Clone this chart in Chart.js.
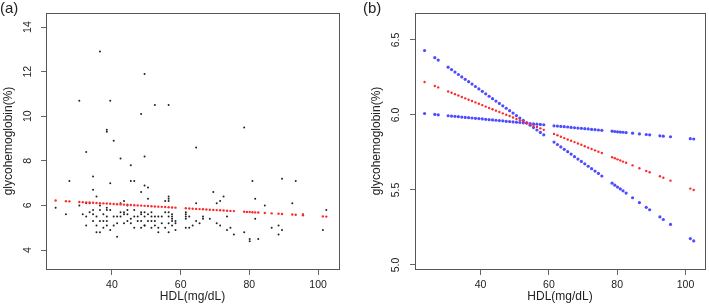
<!DOCTYPE html>
<html>
<head>
<meta charset="utf-8">
<script src="https://cdn.jsdelivr.net/npm/chart.js@4.4.1/dist/chart.umd.min.js"></script>
<style>
html, body { margin: 0; padding: 0; background: #fff; }
#wrap { position: relative; width: 709px; height: 307px; }
canvas { position: absolute; top: 0; }
</style>
</head>
<body>
<div id="wrap">
  <canvas id="chartA" width="355" height="307" style="left:0px"></canvas>
  <canvas id="chartB" width="354" height="307" style="left:355px"></canvas>
</div>
<script>
// observed HDL / glycohemoglobin pairs (panel a)
var hdlObs = [
  36.5, 49.5, 30.5, 39.5, 52.5, 56.5, 48.5, 78.5, 38.5, 38.5, 40.5, 64.5, 32.5, 49.5,
  42.5, 45.5, 27.6, 34.5, 39.5, 45.5, 46.5, 49.5, 34.5, 35.5, 43.5, 23.6, 26.6,
  50.5, 48.5, 50.5, 56.5, 56.5, 56.5, 55.5, 64.5, 69.5, 72.5, 70.5, 71.5,
  80.9, 89.5, 93.5, 81.7, 92.5, 84.5, 102.4, 95.6, 81.7, 86.5, 88.5, 89.5, 88.5,
  78.5, 75.5, 80.1, 80.1, 82.6, 101.4,
  32.5, 33.5, 36.5, 38.5, 42.5, 44.5, 34.5, 36.5, 38.5, 42.5, 43.5, 44.5, 46.5, 48.5,
  31.5, 32.5, 34.5, 35.5, 37.5, 38.5, 40.5, 41.5, 42.5, 43.5, 44.5, 46.5, 47.5, 48.5,
  34.5, 37.5, 38.5, 44.5, 45.5, 47.5, 48.5, 32.5, 35.5, 38.5, 43.5, 46.5, 48.5, 49.5,
  37.5, 39.5, 35.5, 36.5, 41.5,
  33.5, 36.5, 40.5, 39.5, 41.5, 45.5, 30.5,
  49.5, 51.5, 55.5, 56.5, 50.5, 57.5, 49.5, 51.5, 52.5, 53.5, 54.5, 56.5, 57.5,
  50.5, 51.5, 52.5, 57.5, 58.5, 54.5, 56.5, 58.5, 49.5, 52.5, 57.5, 51.5, 53.5, 55.5,
  53.5, 56.5, 57.5, 58.5,
  61.5, 61.5, 61.5, 61.5, 61.5, 62.5, 62.5, 63.5, 64.5, 65.5, 66.5, 66.5, 68.5,
  70.5, 71.5, 73.5, 73.5, 74.5
];
var hba1cObs = [
  12.9, 11.9, 10.7, 10.7, 10.5, 10.5, 10.1, 9.5, 9.4, 9.3, 8.9, 8.6, 8.4, 8.2,
  8.1, 7.8, 7.1, 7.3, 7.0, 7.1, 7.1, 6.9, 6.7, 6.4, 6.2, 5.9, 5.6,
  6.8, 6.6, 6.3, 6.4, 6.3, 6.2, 6.2, 6.1, 6.6, 6.4, 6.1, 6.2,
  7.1, 7.2, 7.1, 6.3, 6.1, 6.0, 5.8, 5.6, 5.4, 5.0, 5.1, 4.9, 4.7,
  4.8, 4.7, 4.5, 4.4, 4.5, 4.9,
  6.1, 6.1, 6.0, 5.9, 6.1, 6.0, 5.8, 5.8, 5.8, 5.7, 5.7, 5.8, 5.8, 5.7,
  5.6, 5.5, 5.6, 5.5, 5.6, 5.5, 5.5, 5.5, 5.5, 5.6, 5.6, 5.5, 5.5, 5.6,
  5.3, 5.3, 5.3, 5.3, 5.2, 5.3, 5.3, 5.1, 5.1, 5.1, 5.2, 5.0, 5.0, 5.1,
  5.0, 4.9, 4.8, 4.8, 4.6,
  5.7, 5.3, 5.1, 5.8, 5.2, 5.4, 6.0,
  5.7, 5.7, 5.7, 5.7, 5.6, 5.6, 5.5, 5.5, 5.5, 5.5, 5.5, 5.5, 5.5,
  5.3, 5.3, 5.3, 5.3, 5.3, 5.2, 5.2, 5.2, 5.1, 5.1, 5.1, 5.0, 5.0, 5.0,
  4.8, 4.8, 5.4, 4.9,
  5.6, 5.5, 5.4, 5.7, 5.0, 5.5, 5.0, 5.1, 5.3, 5.2, 5.5, 5.4, 5.4,
  5.2, 5.1, 5.5, 4.9, 5.0
];

// fitted curve and band, one value per distinct HDL
var hdlGrid = [
  23.6, 26.6, 27.6,
  30.5, 31.5, 32.5, 33.5, 34.5, 35.5, 36.5, 37.5, 38.5, 39.5, 40.5, 41.5, 42.5, 43.5, 44.5,
  45.5, 46.5, 47.5, 48.5, 49.5, 50.5, 51.5, 52.5, 53.5, 54.5, 55.5, 56.5, 57.5, 58.5,
  61.5, 62.5, 63.5, 64.5, 65.5, 66.5, 67.5, 68.5, 69.5, 70.5, 71.5, 72.5, 73.5, 74.5, 75.5,
  78.5, 79.3, 80.1, 80.9, 81.7, 82.6,
  84.5, 86.5, 88.5, 89.5, 92.5, 93.5, 95.6, 101.4, 102.4
];
var fitValues = [
  6.220, 6.193, 6.184,
  6.157, 6.148, 6.139, 6.130, 6.120, 6.111, 6.102, 6.093, 6.084, 6.075, 6.066, 6.056, 6.047, 6.038, 6.029,
  6.020, 6.011, 6.002, 5.993, 5.983, 5.974, 5.965, 5.956, 5.947, 5.938, 5.929, 5.920, 5.911, 5.901,
  5.874, 5.865, 5.855, 5.846, 5.837, 5.828, 5.819, 5.810, 5.801, 5.791, 5.782, 5.773, 5.764, 5.755, 5.746,
  5.718, 5.711, 5.704, 5.697, 5.689, 5.681,
  5.664, 5.645, 5.627, 5.618, 5.591, 5.581, 5.562, 5.509, 5.500
];
var bandUpper = [
  6.430, 6.382, 6.366,
  6.319, 6.303, 6.286, 6.270, 6.254, 6.238, 6.222, 6.206, 6.190, 6.174, 6.158, 6.141, 6.125, 6.109, 6.093,
  6.077, 6.061, 6.045, 6.029, 6.013, 5.996, 5.980, 5.964, 5.948, 5.943, 5.941, 5.939, 5.937, 5.935,
  5.928, 5.926, 5.924, 5.922, 5.920, 5.917, 5.915, 5.913, 5.911, 5.909, 5.907, 5.904, 5.902, 5.900, 5.898,
  5.892, 5.890, 5.888, 5.886, 5.885, 5.883,
  5.879, 5.874, 5.870, 5.868, 5.861, 5.859, 5.855, 5.842, 5.840
];
var bandLower = [
  6.010, 6.004, 6.001,
  5.995, 5.993, 5.991, 5.989, 5.986, 5.984, 5.982, 5.980, 5.978, 5.976, 5.974, 5.971, 5.969, 5.967, 5.965,
  5.963, 5.961, 5.958, 5.956, 5.954, 5.952, 5.950, 5.948, 5.946, 5.932, 5.916, 5.900, 5.884, 5.868,
  5.819, 5.803, 5.787, 5.771, 5.755, 5.739, 5.722, 5.706, 5.690, 5.674, 5.658, 5.642, 5.626, 5.610, 5.593,
  5.545, 5.532, 5.519, 5.507, 5.494, 5.479,
  5.448, 5.416, 5.384, 5.368, 5.320, 5.303, 5.270, 5.176, 5.160
];

var xTicks = [40, 60, 80, 100];
var yTicksA = [4, 6, 8, 10, 12, 14];
var yTicksB = [5.0, 5.5, 6.0, 6.5];
var yTickLabelsB = ['5.0', '5.5', '6.0', '6.5'];

var FONT = '"Liberation Sans", Arial, Helvetica, sans-serif';

function pairs(xs, ys) {
  return xs.map(function (x, i) { return { x: x, y: ys[i] }; });
}

// box, rotated y labels, panel letter (R look)
var rStylePlugin = {
  id: 'rStyle',
  afterDraw: function (chart) {
    var o = chart.options.plugins.rStyle;
    var ctx = chart.ctx, a = chart.chartArea, ys = chart.scales.y;
    ctx.save();
    ctx.strokeStyle = '#555';
    ctx.lineWidth = 1;
    ctx.strokeRect(a.left + 0.5, a.top + 0.5, a.right - a.left, a.bottom - a.top);

    ctx.fillStyle = '#222';
    ctx.font = '10.5px ' + FONT;
    ctx.textAlign = 'center';
    ctx.textBaseline = 'middle';
    o.yTicks.forEach(function (v, i) {
      var y = ys.getPixelForValue(v);
      ctx.save();
      ctx.translate(a.left - o.labelGap, y);
      ctx.rotate(-Math.PI / 2);
      ctx.fillText(o.yLabels[i], 0, 0);
      ctx.restore();
    });

    ctx.font = '15px ' + FONT;
    ctx.textAlign = 'left';
    ctx.textBaseline = 'top';
    ctx.fillText(o.panel, o.panelX, 1);
    ctx.restore();
  }
};

function makePanel(canvasId, datasets, cfg) {
  var ctx = document.getElementById(canvasId).getContext('2d');
  return new Chart(ctx, {
    type: 'scatter',
    data: { datasets: datasets },
    options: {
      responsive: false,
      animation: false,
      layout: { padding: { top: 13, right: cfg.padRight, left: 0, bottom: 0 } },
      plugins: {
        legend: { display: false },
        tooltip: { enabled: false },
        rStyle: { yTicks: cfg.yTicks, yLabels: cfg.yLabels, labelGap: cfg.labelGap, panel: cfg.panel, panelX: cfg.panelX }
      },
      scales: {
        x: {
          type: 'linear',
          min: cfg.xMin,
          max: cfg.xMax,
          afterBuildTicks: function (s) { s.ticks = xTicks.map(function (v) { return { value: v }; }); },
          afterFit: function (s) { s.height = 38; },
          grid: { drawOnChartArea: false, drawTicks: true, tickLength: 6, color: '#666' },
          border: { display: false },
          ticks: { autoSkip: false, maxRotation: 0, padding: 4, color: '#222', font: { family: FONT, size: 10.5 } },
          title: { display: true, text: 'HDL(mg/dL)', color: '#222', font: { family: FONT, size: 12 }, padding: { top: 0, bottom: 3 } }
        },
        y: {
          type: 'linear',
          min: cfg.yMin,
          max: cfg.yMax,
          afterBuildTicks: function (s) { s.ticks = cfg.yTicks.map(function (v) { return { value: v }; }); },
          afterFit: function (s) { s.width = cfg.yWidth; },
          grid: { drawOnChartArea: false, drawTicks: true, tickLength: 5, color: '#666' },
          border: { display: false },
          ticks: { display: false },
          title: { display: true, text: 'glycohemoglobin(%)', color: '#222', font: { family: FONT, size: 12 }, padding: { top: cfg.titlePad, bottom: 0 } }
        }
      }
    },
    plugins: [rStylePlugin]
  });
}

makePanel('chartA', [
  {
    label: 'fitted',
    data: pairs(hdlGrid, fitValues),
    pointRadius: 1.2,
    pointBackgroundColor: '#ff2a2a',
    pointBorderWidth: 0,
    showLine: false
  },
  {
    label: 'observed',
    data: pairs(hdlObs, hba1cObs),
    pointRadius: 1,
    pointBackgroundColor: '#222',
    pointBorderWidth: 0,
    showLine: false
  }
], {
  xMin: 20.8, xMax: 106.1, yMin: 3.15, yMax: 14.63,
  yTicks: yTicksA, yLabels: yTicksA.map(String),
  yWidth: 46, padRight: 16, labelGap: 18, titlePad: 1,
  panel: '(a)', panelX: 0
});

makePanel('chartB', [
  {
    label: 'fitted',
    data: pairs(hdlGrid, fitValues),
    pointRadius: 1.2,
    pointBackgroundColor: '#ff2a2a',
    pointBorderWidth: 0,
    showLine: false
  },
  {
    label: 'upper',
    data: pairs(hdlGrid, bandUpper),
    pointRadius: 1.6,
    pointBackgroundColor: '#4d4dff',
    pointBorderWidth: 0,
    showLine: false
  },
  {
    label: 'lower',
    data: pairs(hdlGrid, bandLower),
    pointRadius: 1.6,
    pointBackgroundColor: '#4d4dff',
    pointBorderWidth: 0,
    showLine: false
  }
], {
  xMin: 20.8, xMax: 105.7, yMin: 4.973, yMax: 6.68,
  yTicks: yTicksB, yLabels: yTickLabelsB,
  yWidth: 60, padRight: 2, labelGap: 19, titlePad: 14,
  panel: '(b)', panelX: 8
});
</script>
</body>
</html>
